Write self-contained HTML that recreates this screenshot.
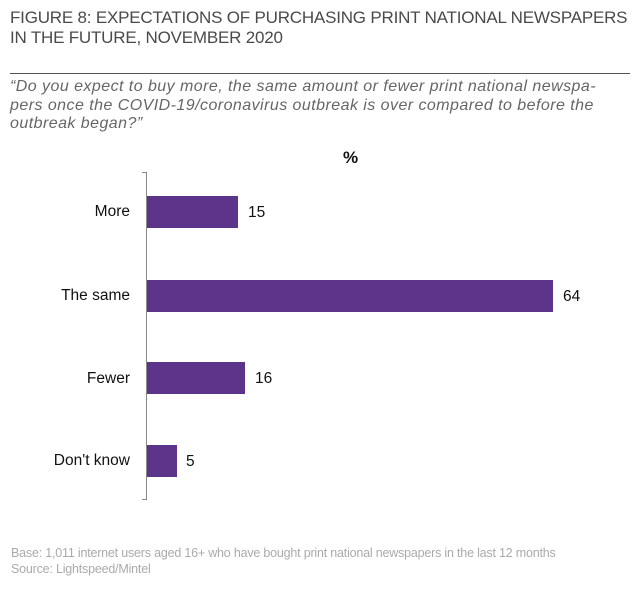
<!DOCTYPE html>
<html><head><style>
body{margin:0;width:640px;height:595px;background:#fff;position:relative;font-family:"Liberation Sans",sans-serif;overflow:hidden}
.t{position:absolute;left:10px;top:8px;font-size:17px;color:#4a4a4a;line-height:20px;letter-spacing:-0.2px;white-space:nowrap}
.hr{position:absolute;left:10px;top:73px;width:620px;height:1px;background:#555}
.q{position:absolute;left:10px;top:78px;font-size:16px;font-style:italic;color:#666;line-height:18.5px;white-space:nowrap;letter-spacing:0.45px}
.l{position:absolute;font-size:15.5px;color:#111;text-align:right;width:120px;left:10px}
.v{position:absolute;font-size:15.5px;color:#111}
.b{position:absolute;left:147px;height:32px;background:#5c358a}
.f{position:absolute;left:11px;font-size:12.5px;color:#aaa;letter-spacing:-0.2px;white-space:nowrap}
</style></head><body>
<div class="t">FIGURE 8: EXPECTATIONS OF PURCHASING PRINT NATIONAL NEWSPAPERS<br>IN THE FUTURE, NOVEMBER 2020</div>
<div class="hr"></div>
<div class="q">“Do you expect to buy more, the same amount or fewer print national newspa-<br>pers once the COVID-19/coronavirus outbreak is over compared to before the<br>outbreak began?”</div>
<div style="position:absolute;left:343px;top:148px;font-size:17px;font-weight:bold;color:#111">%</div>
<div style="position:absolute;left:146px;top:172px;width:1px;height:328px;background:#888"></div>
<div style="position:absolute;left:142px;top:172px;width:5px;height:1px;background:#888"></div>
<div style="position:absolute;left:142px;top:499px;width:5px;height:1px;background:#888"></div>
<div class="b" style="top:196px;width:91px"></div>
<div class="b" style="top:280px;width:406px"></div>
<div class="b" style="top:362px;width:98px"></div>
<div class="b" style="top:445px;width:30px"></div>
<div class="l" style="top:203px">More</div>
<div class="l" style="top:287px">The same</div>
<div class="l" style="top:370px">Fewer</div>
<div class="l" style="top:452px">Don't know</div>
<div class="v" style="left:248px;top:204px">15</div>
<div class="v" style="left:563px;top:288px">64</div>
<div class="v" style="left:255px;top:370px">16</div>
<div class="v" style="left:186px;top:453px">5</div>
<div class="f" style="top:546px">Base: 1,011 internet users aged 16+ who have bought print national newspapers in the last 12 months</div>
<div class="f" style="top:562px">Source: Lightspeed/Mintel</div>
</body></html>
